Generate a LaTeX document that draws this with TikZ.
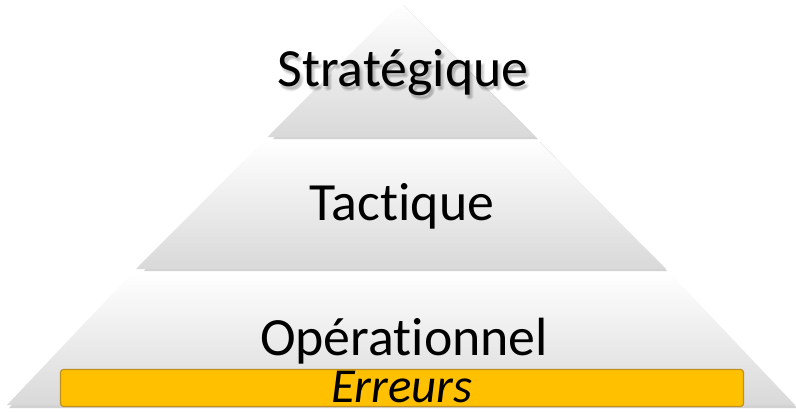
\documentclass[tikz,border=0pt]{standalone}
\usepackage{fontspec}
\setmainfont{Carlito}[Ligatures=NoCommon]
\begin{document}
\begin{tikzpicture}[x=1bp,y=-1bp,
  layer/.style={top color=white,bottom color=black!15,draw=none},
  shadowc/.style={fill=black!35,draw=none,opacity=0.5},
  lbl/.style={font=\fontsize{54}{54}\selectfont,anchor=base,inner sep=0pt}]
\useasboundingbox (0,0) rectangle (796,412);
\definecolor{barfill}{HTML}{FFC000}
\definecolor{barline}{HTML}{BF8F20}
% shadows
\fill[shadowc] (403,5) -- (538,139) -- (273,139) -- cycle;
\fill[shadowc] (270,142) -- (540,142) -- (667,271) -- (144,271) -- cycle;
\fill[shadowc] (141,274) -- (669,274) -- (797,408) -- (9,408) -- cycle;
% layers
\shade[layer] (401,3) -- (534.5,137) -- (267.5,137) -- cycle;
\shade[layer] (264.5,140) -- (537.5,140) -- (666,269) -- (136,269) -- cycle;
\shade[layer] (133,272) -- (669,272) -- (795,405) -- (7,405) -- cycle;
% bar
\node[draw=barline,fill=barfill,line width=1.2bp,rounded corners=3bp,minimum width=683bp,minimum height=37bp,inner sep=0pt] (bar) at (402,388) {};
% text shadow
\foreach \dx/\dy in {1/3,3/4,2/5,4/3} {
  \node[lbl,text=black,opacity=0.07] at (403+\dx,86+\dy) {Stratégique};
}
\node[lbl] (s) at (403,86) {Stratégique};
\node[lbl] (t) at (402,220) {Tactique};
\node[lbl] (o) at (404,355) {Opérationnel};
\node[lbl,font=\fontsize{49}{49}\selectfont\itshape] (e) at (402,402) {Erreurs};
\end{tikzpicture}
\end{document}
